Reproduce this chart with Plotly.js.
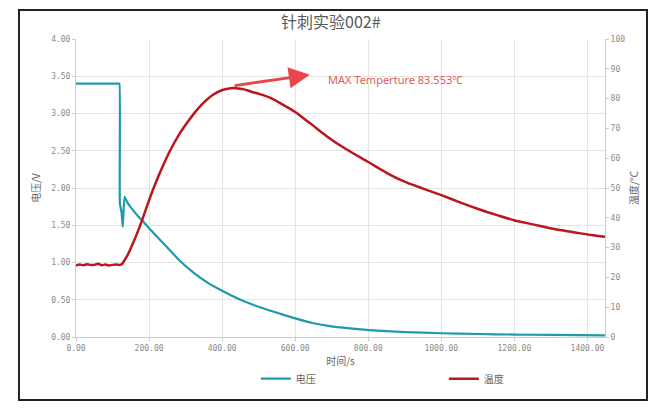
<!DOCTYPE html>
<html>
<head>
<meta charset="utf-8">
<script src="https://cdn.plot.ly/plotly-3.0.1.min.js"></script>
<style>
  html, body { margin: 0; padding: 0; background: #fff; }
  #chart { width: 655px; height: 411px; }
</style>
</head>
<body>
<div id="chart"></div>
<script>
// 电压曲线 (时间 s, 电压 V)
const voltTime = [0, 118, 119, 120, 122, 125, 128, 133, 140, 150, 160, 170, 184, 200, 225, 250, 285, 325, 360, 400, 450, 512, 560, 600, 650, 695, 750, 800, 900, 1000, 1100, 1200, 1300, 1448];
const voltValues = [3.40, 3.40, 3.40, 1.80, 1.74, 1.66, 1.48, 1.88, 1.81, 1.74, 1.68, 1.62, 1.55, 1.46, 1.33, 1.20, 1.02, 0.85, 0.73, 0.62, 0.50, 0.385, 0.31, 0.25, 0.185, 0.145, 0.115, 0.093, 0.066, 0.05, 0.04, 0.033, 0.028, 0.022];

// 温度曲线 (时间 s, 温度 ℃)
const tempTime = [0, 10, 20, 30, 40, 50, 60, 70, 80, 90, 100, 110, 120, 125, 130, 140, 150, 157, 165, 172, 180, 190, 200, 210, 220, 235, 257, 280, 303, 325, 348, 375, 399, 415, 430, 445, 460, 480, 503, 531, 560, 599, 640, 686, 740, 799, 850, 896, 950, 1000, 1051, 1105, 1150, 1201, 1250, 1297, 1340, 1370, 1410, 1448];
const tempValues = [24.0, 24.3, 24.1, 24.4, 24.2, 24.2, 24.6, 24.1, 24.3, 24.0, 24.2, 24.3, 24.2, 24.4, 25.2, 27.2, 29.8, 31.8, 34.1, 36.3, 38.9, 42.4, 45.9, 49.2, 52.3, 56.6, 62.4, 67.5, 71.7, 75.3, 78.5, 81.3, 82.8, 83.3, 83.55, 83.4, 83.1, 82.3, 81.5, 80.3, 78.4, 75.6, 71.8, 67.4, 63.0, 58.8, 55.1, 52.3, 49.8, 47.6, 45.2, 42.8, 41.0, 39.1, 37.8, 36.5, 35.6, 35.0, 34.2, 33.6];

const peakTime = 430;
const peakTemp = 83.553;

const tickFont = { family: 'DejaVu Sans Mono, monospace', size: 8, color: '#8a8a8a' };
const labelFont = { family: 'Noto Sans CJK SC, sans-serif', size: 10, color: '#666' };

const voltTrace = {
  x: voltTime,
  y: voltValues,
  type: 'scatter',
  mode: 'lines',
  name: '电压',
  line: { color: '#1d9ba6', width: 2.2, shape: 'spline', smoothing: 0.5 }
};

const tempTrace = {
  x: tempTime,
  y: tempValues,
  yaxis: 'y2',
  type: 'scatter',
  mode: 'lines',
  name: '温度',
  line: { color: '#bb1520', width: 2.5, shape: 'spline', smoothing: 0.8 }
};

const layout = {
  width: 655,
  height: 411,
  paper_bgcolor: '#fff',
  plot_bgcolor: '#fff',
  margin: { l: 76, r: 50, t: 39, b: 74 },
  title: {
    text: '针刺实验002#',
    x: 0.505,
    xref: 'container',
    y: 0.946,
    yref: 'container',
    yanchor: 'middle',
    font: { family: 'Noto Sans CJK SC, sans-serif', size: 16, color: '#5a5a5a' }
  },
  xaxis: {
    range: [0, 1448],
    tickvals: [0, 200, 400, 600, 800, 1000, 1200, 1400],
    tickformat: '.2f',
    tickfont: tickFont,
    ticks: 'outside',
    ticklen: 3,
    tickcolor: '#ccc',
    gridcolor: '#e4e4e4',
    showline: true,
    linecolor: '#ccc',
    zeroline: false,
    title: { text: '时间/s', font: labelFont, standoff: 6 }
  },
  yaxis: {
    range: [0, 4],
    dtick: 0.5,
    tickformat: '.2f',
    tickfont: tickFont,
    ticks: 'outside',
    ticklen: 3,
    tickcolor: '#ccc',
    gridcolor: '#e4e4e4',
    showline: true,
    linecolor: '#ccc',
    zeroline: false,
    title: { text: '电压/V', font: labelFont, standoff: 8 }
  },
  yaxis2: {
    overlaying: 'y',
    side: 'right',
    range: [0, 100],
    dtick: 10,
    tickfont: tickFont,
    ticks: 'outside',
    ticklen: 3,
    tickcolor: '#ccc',
    showgrid: false,
    showline: true,
    linecolor: '#ccc',
    zeroline: false,
    title: { text: '温度/℃', font: labelFont, standoff: 6 }
  },
  showlegend: true,
  legend: {
    orientation: 'h',
    x: 0.34,
    xanchor: 'left',
    y: -0.14,
    yanchor: 'middle',
    entrywidth: 143,
    entrywidthmode: 'pixels',
    font: labelFont,
    bgcolor: 'rgba(0,0,0,0)'
  },
  annotations: [
    {
      x: 640,
      y: 3.52,
      xref: 'x',
      yref: 'y',
      ax: peakTime,
      ay: peakTemp / 25 + 0.03,
      axref: 'x',
      ayref: 'y',
      text: '',
      showarrow: true,
      arrowhead: 2,
      arrowsize: 1.5,
      arrowwidth: 2.8,
      arrowcolor: '#e8464a'
    },
    {
      x: 684,
      y: 3.46,
      xref: 'x',
      yref: 'y',
      xanchor: 'left',
      yanchor: 'middle',
      text: 'MAX Temperture ' + peakTemp + '℃',
      showarrow: false,
      font: { family: 'Noto Sans, sans-serif', size: 11, color: '#e05c5c' }
    }
  ],
  shapes: [
    {
      type: 'rect',
      xref: 'paper',
      yref: 'paper',
      x0: -0.1078,
      x1: 1.0794,
      y0: -0.2114,
      y1: 1.0973,
      line: { color: '#222', width: 2 },
      layer: 'below'
    }
  ]
};

Plotly.newPlot('chart', [voltTrace, tempTrace], layout, {
  displayModeBar: false,
  staticPlot: true
});
</script>
</body>
</html>
